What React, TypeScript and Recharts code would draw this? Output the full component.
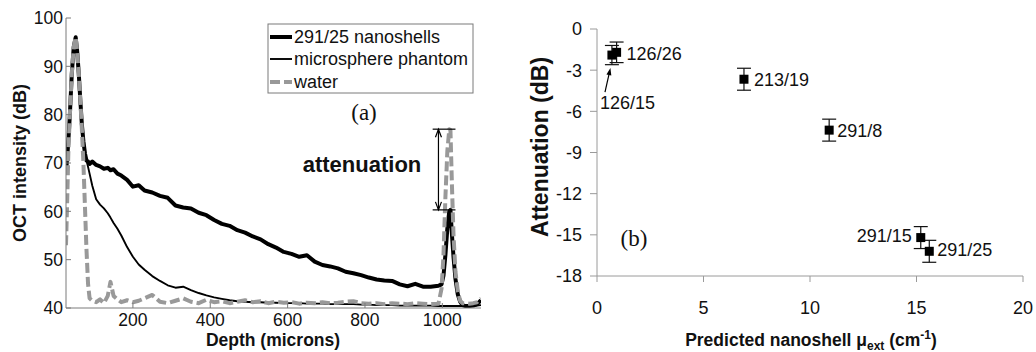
import React from 'react';
import { LineChart, Line, XAxis, YAxis, ScatterChart, Scatter, ErrorBar, ReferenceLine } from 'recharts';

// ---------- panel (a) data ----------
const depth = [27, 30, 33, 37, 42, 47, 52, 56, 60, 64, 68, 72, 76, 80, 84, 88, 95, 105, 115, 125, 135, 142, 150, 160, 170, 185, 200, 215, 230, 250, 270, 290, 310, 330, 350, 370, 390, 410, 430, 450, 470, 490, 510, 530, 550, 570, 590, 610, 630, 650, 670, 690, 710, 730, 750, 770, 790, 810, 830, 850, 870, 890, 910, 930, 950, 970, 990, 998, 1003, 1008, 1013, 1018, 1021, 1025, 1029, 1034, 1040, 1046, 1052, 1060, 1070, 1080, 1090, 1100];
const nanoshells = [68, 71, 74.5, 80, 88.5, 94, 96, 93, 88.5, 83, 78, 74.5, 72, 70.5, 70.3, 69.8, 70.3, 69.6, 69.3, 68.8, 69, 68.5, 68.7, 67.8, 67.4, 66.5, 65.1, 65.4, 64.3, 63.9, 63.2, 62.8, 61.2, 60.8, 60.6, 59.7, 59.2, 58.2, 57.4, 57.0, 56.1, 55.6, 54.8, 54.2, 53.2, 52.5, 51.6, 51.2, 50.6, 50.9, 49.6, 48.9, 48.6, 48.2, 47.5, 47.2, 46.8, 46.3, 45.9, 45.7, 45.6, 44.9, 44.5, 45.0, 44.4, 44.4, 44.6, 44.9, 46.7, 51, 56.5, 60, 60.3, 55, 50.5, 46, 42.8, 41.3, 40.6, 40.4, 40.4, 40.5, 40.8, 41.6];
const microsphere = [68, 71, 74.5, 80, 88.5, 94, 96, 93, 88.5, 83, 78, 74.5, 72, 70.5, 69.2, 67.8, 65.3, 62.5, 61.4, 60.6, 59.6, 58.7, 57.6, 56.4, 55, 52.6, 50.6, 49, 47.9, 46.6, 45.6, 44.7, 44.2, 44.4, 43.7, 43.1, 42.6, 42.2, 41.9, 41.6, 41.4, 41.3, 41.2, 41.2, 41.1, 41.1, 41.0, 41.0, 41.0, 40.9, 40.9, 40.9, 40.8, 40.8, 40.8, 40.8, 40.7, 40.7, 40.6, 40.6, 40.6, 40.5, 40.5, 40.5, 40.5, 40.5, 40.4, 40.4, 40.4, 40.4, 40.4, 40.4, 40.4, 40.4, 40.4, 40.4, 40.4, 40.4, 40.4, 40.4, 40.4, 40.4, 40.5, 40.6];
const water = [53, 62, 72, 80, 88.5, 94, 96, 93, 88.5, 83, 77, 70, 61, 52, 45, 42, 41.5, 41.2, 41.8, 41, 42.5, 45.4, 42.5, 41.8, 41.2, 41.6, 41.2, 41.5, 42, 42.7, 41.3, 41, 41.5, 42, 41.3, 41, 41.7, 41.2, 41.4, 41, 41.3, 41.6, 41.2, 41.4, 41, 41.3, 41.1, 41.2, 40.9, 41.1, 41, 41.2, 41, 41.1, 41.3, 41.4, 41, 40.9, 41, 40.8, 41, 40.9, 40.8, 41, 40.9, 40.8, 40.9, 44, 51, 63, 72.5, 77, 76.8, 65, 55, 47.5, 43.5, 41.5, 41, 41, 40.9, 41, 41.2, 42];
const depthTicks = [200, 400, 600, 800, 1000];
const intensityTicks = [40, 50, 60, 70, 80, 90, 100];
const depthDomain = [27, 1100];
const intensityDomain = [40, 100];
// attenuation marker (data units)
const attenX = 990;
const attenLow = 60.3;
const attenHigh = 77;
const attenBarFrom = 975;
const attenBarTo = 1034;

// ---------- panel (b) data ----------
const sampleNames = ['126/15', '126/26', '213/19', '291/8', '291/15', '291/25'];
const muExt = [0.7, 0.92, 6.9, 10.9, 15.2, 15.6];
const attenuation = [-1.9, -1.7, -3.66, -7.37, -15.2, -16.2];
const attError = [0.7, 0.75, 0.8, 0.8, 0.8, 0.8];
const muTicks = [0, 5, 10, 15, 20];
const attTicks = [0, -3, -6, -9, -12, -15, -18];
const pointerFrom = { x: 0.375, y: -4.6 };
const pointerTo = { x: 0.63, y: -2.85 };

const lineData = depth.map((d, i) => ({ depth: d, nano: nanoshells[i], micro: microsphere[i], water: water[i] }));
const scatterData = muExt.map((m, i) => ({ mu: m, att: attenuation[i], err: attError[i], name: sampleNames[i] }));

const FONT = '"Liberation Sans", Arial, Helvetica, sans-serif';
const SERIF = '"Liberation Serif", "Times New Roman", serif';
const FRAME = '#7a7a7a';
const GRAY = '#999999';
const THICK = 4;
const THIN = 1.9;
const DASHW = 4;
const DASH = '10 4';

const labelPlacement: Record<string, { dx: number; dy: number; anchor: 'start' | 'end' }> = {
  '126/15': { dx: -12, dy: 48, anchor: 'start' },
  '126/26': { dx: 10, dy: 1, anchor: 'start' },
  '213/19': { dx: 10, dy: 0, anchor: 'start' },
  '291/8': { dx: 8, dy: 0, anchor: 'start' },
  '291/15': { dx: -9, dy: -2, anchor: 'end' },
  '291/25': { dx: 8, dy: -2, anchor: 'start' },
};

const LeftTick = (p: any) => (
  <g>
    <line x1={p.x + 3} x2={p.x + 8} y1={p.y} y2={p.y} stroke={FRAME} strokeWidth={1} />
    <text x={p.x} y={p.y} dy="0.355em" textAnchor="end" fontSize={17.5} fontFamily={FONT} fill="#111">
      {p.payload.value}
    </text>
  </g>
);
const BottomTick = (p: any) => (
  <g>
    <line x1={p.x} x2={p.x} y1={p.y - 6} y2={p.y - 11} stroke={FRAME} strokeWidth={1} />
    <text x={p.x} y={p.y} dy="0.71em" textAnchor="middle" fontSize={17.5} fontFamily={FONT} fill="#111">
      {p.payload.value}
    </text>
  </g>
);
const TopTick = (p: any) => <line x1={p.x} x2={p.x} y1={p.y} y2={p.y + 5} stroke={FRAME} strokeWidth={1} />;
const RightTick = (p: any) => <line x1={p.x} x2={p.x - 5} y1={p.y} y2={p.y} stroke={FRAME} strokeWidth={1} />;

const DoubleArrow = (p: any) => {
  const { x1, y1, x2, y2 } = p;
  const top = Math.min(y1, y2);
  const bot = Math.max(y1, y2);
  const x = x1;
  return (
    <g stroke="#000" strokeWidth={1.2} fill="none">
      <line x1={x} x2={x} y1={top} y2={bot} />
      <polyline points={`${x - 3},${top + 8} ${x},${top} ${x + 3},${top + 8}`} />
      <polyline points={`${x - 3},${bot - 8} ${x},${bot} ${x + 3},${bot - 8}`} />
    </g>
  );
};
const PlainSeg = (p: any) => <line x1={p.x1} y1={p.y1} x2={p.x2} y2={p.y2} stroke="#000" strokeWidth={1.2} />;
const PointerArrow = (p: any) => {
  const { x1, y1, x2, y2 } = p;
  const a = Math.atan2(y2 - y1, x2 - x1);
  const L = 7;
  const W = 2.5;
  const bx = x2 - L * Math.cos(a);
  const by = y2 - L * Math.sin(a);
  const nx = -Math.sin(a) * W;
  const ny = Math.cos(a) * W;
  return (
    <g>
      <line x1={x1} y1={y1} x2={bx} y2={by} stroke="#000" strokeWidth={1.2} />
      <polygon points={`${x2},${y2} ${bx + nx},${by + ny} ${bx - nx},${by - ny}`} fill="#000" />
    </g>
  );
};

const SquareShape = (p: any) => {
  const pl = labelPlacement[p.payload.name];
  return (
    <g>
      <rect x={p.cx - 4.5} y={p.cy - 4.5} width={9} height={9} fill="#000" />
      <text
        x={p.cx + pl.dx}
        y={p.cy + pl.dy}
        dy="0.355em"
        textAnchor={pl.anchor}
        fontSize={18}
        fontFamily={FONT}
        fill="#111"
      >
        {p.payload.name}
      </text>
    </g>
  );
};

export default function App() {
  return (
    <div style={{ position: 'absolute', left: 0, top: 0, width: 1036, height: 352, background: '#fff', overflow: 'hidden' }}>
      <div style={{ position: 'absolute', left: 0, top: 0 }}>
        <LineChart width={520} height={352} data={lineData} margin={{ top: 18, right: 39, bottom: 14, left: 26 }}>
          <XAxis
            xAxisId="b"
            dataKey="depth"
            type="number"
            domain={depthDomain}
            allowDataOverflow
            ticks={depthTicks}
            interval={0}
            height={30}
            tickSize={0}
            tickMargin={6}
            tickLine={false}
            stroke={FRAME}
            tick={BottomTick}
          />
          <XAxis
            xAxisId="t"
            orientation="top"
            dataKey="depth"
            type="number"
            domain={depthDomain}
            allowDataOverflow
            ticks={depthTicks}
            interval={0}
            height={0}
            tickSize={0}
            tickMargin={0}
            tickLine={false}
            stroke={FRAME}
            tick={TopTick}
          />
          <YAxis
            yAxisId="l"
            type="number"
            domain={intensityDomain}
            allowDataOverflow
            ticks={intensityTicks}
            interval={0}
            width={40}
            tickSize={0}
            tickMargin={3}
            tickLine={false}
            stroke={FRAME}
            tick={LeftTick}
          />
          <YAxis
            yAxisId="r"
            orientation="right"
            type="number"
            domain={intensityDomain}
            allowDataOverflow
            ticks={intensityTicks}
            interval={0}
            width={0}
            tickSize={0}
            tickMargin={0}
            tickLine={false}
            stroke={FRAME}
            tick={RightTick}
          />
          <Line xAxisId="b" yAxisId="l" type="linear" dataKey="nano" stroke="#000" strokeWidth={THICK} dot={false} isAnimationActive={false} strokeLinejoin="round" />
          <Line xAxisId="b" yAxisId="l" type="linear" dataKey="micro" stroke="#000" strokeWidth={THIN} dot={false} isAnimationActive={false} strokeLinejoin="round" />
          <Line xAxisId="b" yAxisId="l" type="linear" dataKey="water" stroke={GRAY} strokeWidth={DASHW} strokeDasharray={DASH} dot={false} isAnimationActive={false} strokeLinejoin="round" />
          <ReferenceLine
            xAxisId="b"
            yAxisId="l"
            segment={[{ x: attenX, y: attenLow }, { x: attenX, y: attenHigh }]}
            shape={DoubleArrow}
            ifOverflow="visible"
          />
          <ReferenceLine
            xAxisId="b"
            yAxisId="l"
            segment={[{ x: attenBarFrom, y: attenHigh }, { x: attenBarTo, y: attenHigh }]}
            shape={PlainSeg}
            ifOverflow="visible"
          />
          <ReferenceLine
            xAxisId="b"
            yAxisId="l"
            segment={[{ x: attenBarFrom, y: attenLow }, { x: attenBarTo, y: attenLow }]}
            shape={PlainSeg}
            ifOverflow="visible"
          />
        </LineChart>
      </div>
      <div style={{ position: 'absolute', left: 520, top: 0 }}>
        <ScatterChart width={516} height={352} margin={{ top: 29, right: 13, bottom: 46, left: 17 }}>
          <XAxis
            type="number"
            dataKey="mu"
            domain={[0, 20]}
            ticks={muTicks}
            interval={0}
            height={30}
            tickSize={6}
            tickMargin={19}
            stroke="#9a9a9a"
            tick={{ fontSize: 18, fill: '#111', fontFamily: FONT }}
          />
          <YAxis
            type="number"
            dataKey="att"
            domain={[-18, 0]}
            ticks={attTicks}
            interval={0}
            width={60}
            tickSize={7}
            tickMargin={8}
            stroke="#9a9a9a"
            tick={{ fontSize: 18, fill: '#111', fontFamily: FONT }}
          />
          <ReferenceLine segment={[pointerFrom, pointerTo]} shape={PointerArrow} ifOverflow="visible" />
          <Scatter data={scatterData} shape={SquareShape} isAnimationActive={false}>
            <ErrorBar dataKey="err" direction="y" width={7} stroke="#111" strokeWidth={1.2} />
          </Scatter>
        </ScatterChart>
      </div>
      <svg width={1036} height={352} style={{ position: 'absolute', left: 0, top: 0, pointerEvents: 'none' }}>
        {/* legend (a) */}
        <rect x={268} y={24} width={205} height={69} fill="#fff" stroke={FRAME} strokeWidth={1} />
        <line x1={270} x2={292} y1={37} y2={37} stroke="#000" strokeWidth={THICK} />
        <line x1={270} x2={292} y1={59} y2={59} stroke="#000" strokeWidth={THIN} />
        <line x1={270} x2={292} y1={82} y2={82} stroke={GRAY} strokeWidth={DASHW} strokeDasharray={DASH} />
        <text x={294} y={37} dy="0.355em" fontSize={18} fontFamily={FONT} fill="#111">291/25 nanoshells</text>
        <text x={294} y={59} dy="0.355em" fontSize={18} fontFamily={FONT} fill="#111">microsphere phantom</text>
        <text x={294} y={82} dy="0.355em" fontSize={18} fontFamily={FONT} fill="#111">water</text>
        <text x={364} y={120} textAnchor="middle" fontSize={23} fontFamily={SERIF} fill="#111">(a)</text>
        <text x={362} y={172} textAnchor="middle" fontSize={22} fontWeight="bold" fontFamily={FONT} fill="#111">attenuation</text>
        <text x={273} y={346} textAnchor="middle" fontSize={17.5} fontWeight="bold" fontFamily={FONT} fill="#111">Depth (microns)</text>
        <text x={20} y={163} transform="rotate(-90 20 163)" dy="0.355em" textAnchor="middle" fontSize={18} fontWeight="bold" fontFamily={FONT} fill="#111">OCT intensity (dB)</text>
        {/* panel (b) texts */}
        <text x={540} y={147} transform="rotate(-90 540 147)" dy="0.355em" textAnchor="middle" fontSize={23} fontWeight="bold" fontFamily={FONT} fill="#111">Attenuation (dB)</text>
        <text x={811} y={346} textAnchor="middle" fontSize={17.5} fontWeight="bold" fontFamily={FONT} fill="#111">
          Predicted nanoshell μ<tspan fontSize={12} dy={4}>ext</tspan>
          <tspan dy={-4}> (cm</tspan>
          <tspan fontSize={12} dy={-7}>-1</tspan>
          <tspan dy={7}>)</tspan>
        </text>
        <text x={634} y={246} textAnchor="middle" fontSize={23} fontFamily={SERIF} fill="#111">(b)</text>
      </svg>
    </div>
  );
}
